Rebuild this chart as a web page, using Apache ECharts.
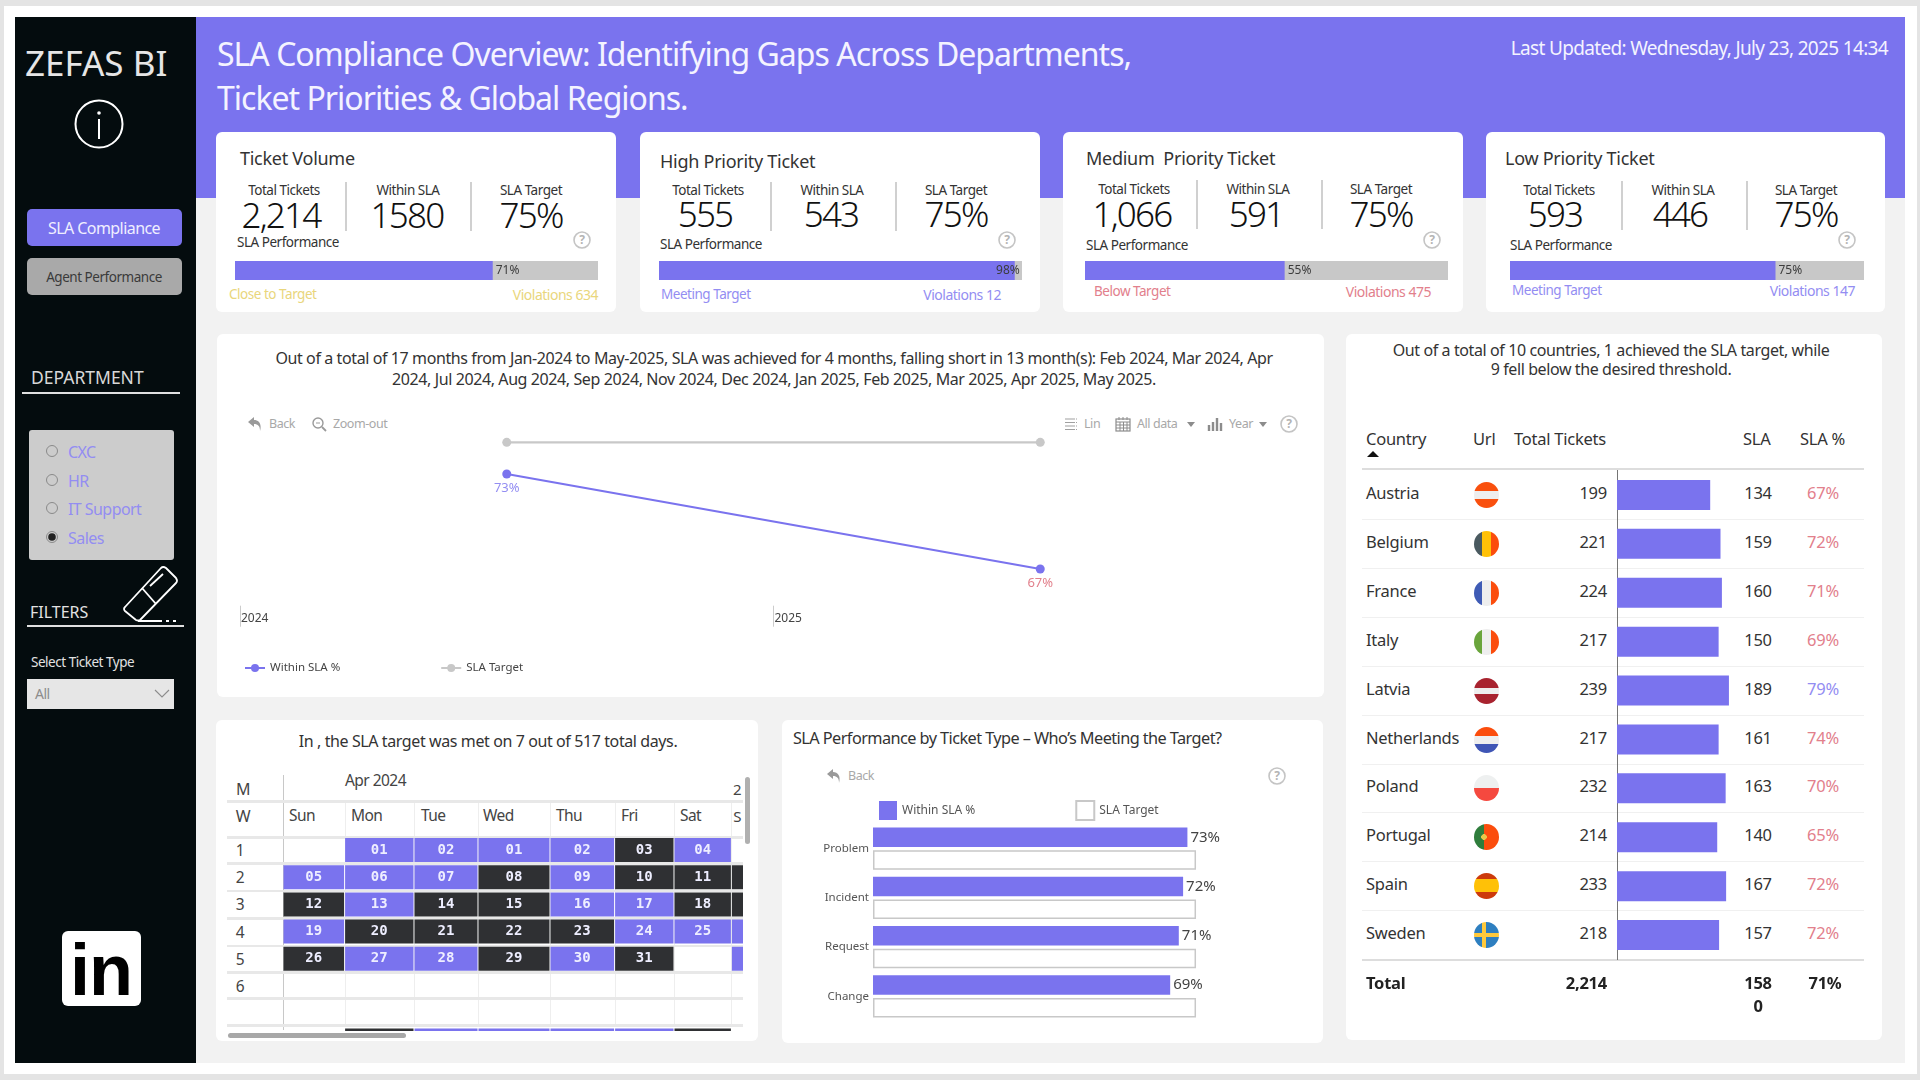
<!DOCTYPE html>
<html>
<head>
<meta charset="utf-8">
<title>SLA Compliance Overview</title>
<script src="https://cdn.jsdelivr.net/npm/echarts@6/dist/echarts.min.js"></script>
<style>
    html, body { margin: 0; padding: 0; width: 1920px; height: 1080px; overflow: hidden; background: #e4e4e4; }
    body { font-family: "Noto Sans", sans-serif; color: #333; }
    #page { position: absolute; left: 0; top: 0; width: 1920px; height: 1080px; }
    .box { position: absolute; }
    .box svg { display: block; }
    .txt { position: absolute; white-space: pre; letter-spacing: -0.035em; line-height: 1; }
    .flag { position: absolute; width: 25px; height: 26px; border-radius: 50%; overflow: hidden; }
</style>
</head>
<body>
<div id="page"></div>
<script>
/* sla dashboard */

// -------------------------------------------------
// data
// -------------------------------------------------
const kpiTitles = ["Ticket Volume", "High Priority Ticket", "Medium  Priority Ticket", "Low Priority Ticket"];
const kpiTotals = ["2,214", "555", "1,066", "593"];
const kpiWithin = ["1580", "543", "591", "446"];
const kpiTargets = ["75%", "75%", "75%", "75%"];
const kpiPercents = [71, 98, 55, 75];
const kpiStatus = ["Close to Target", "Meeting Target", "Below Target", "Meeting Target"];
const kpiViolations = [634, 12, 475, 147];

const trendYears = ["2024", "2025"];
const trendWithin = [73, 67];
const trendTarget = [75, 75];

const weekLabels = ["1", "2", "3", "4", "5", "6"];
const dayLabels = ["Sun", "Mon", "Tue", "Wed", "Thu", "Fri", "Sat"];
const calendarDays = [
    ["", "01", "02", "01", "02", "03", "04", ""],
    ["05", "06", "07", "08", "09", "10", "11", ""],
    ["12", "13", "14", "15", "16", "17", "18", ""],
    ["19", "20", "21", "22", "23", "24", "25", ""],
    ["26", "27", "28", "29", "30", "31", "", ""],
    ["", "", "", "", "", "", "", ""],
    ["", "", "", "", "", "", "", ""],
    ["", "", "", "", "", "", "", ""]
];
// 1 = target met, 0 = missed, null = no cell
const calendarMet = [
    [null, 1, 1, 1, 1, 0, 1, null],
    [1, 1, 1, 0, 1, 0, 0, 0],
    [0, 1, 0, 0, 1, 1, 0, 0],
    [1, 0, 0, 0, 0, 1, 1, 1],
    [0, 1, 1, 0, 1, 0, null, 1],
    [null, null, null, null, null, null, null, null],
    [null, null, null, null, null, null, null, null],
    [null, 0, 1, 1, 1, 1, 0, null]
];

const ticketTypes = ["Problem", "Incident", "Request", "Change"];
const typeWithin = [73, 72, 71, 69];
const typeTarget = [75, 75, 75, 75];

const countries = ["Austria", "Belgium", "France", "Italy", "Latvia", "Netherlands", "Poland", "Portugal", "Spain", "Sweden"];
const countryTickets = [199, 221, 224, 217, 239, 217, 232, 214, 233, 218];
const countrySla = [134, 159, 160, 150, 189, 161, 163, 140, 167, 157];
const countryPct = [67, 72, 71, 69, 79, 74, 70, 65, 72, 72];

// -------------------------------------------------
// colours + flags
// -------------------------------------------------
const PURPLE = "#7a73ee";
const SOFT_PURPLE = "#938df2";
const RED = "#e2808c";
const YELLOW = "#e9d67c";
const DARK = "#2f3033";
const statusColors = { "Close to Target": YELLOW, "Meeting Target": SOFT_PURPLE, "Below Target": RED };
const PARA = "letter-spacing:-0.025em;";
const TABLE = "letter-spacing:-0.015em;";

const flagStyles = [
    "linear-gradient(#f9500e 33%, #eeeeee 33%, #eeeeee 66%, #f9500e 66%)",
    "linear-gradient(90deg, #4a5a60 33%, #ffc107 33%, #ffc107 66%, #fb4d0d 66%)",
    "linear-gradient(90deg, #3f5bb5 33%, #eeeeee 33%, #eeeeee 66%, #fb4d0d 66%)",
    "linear-gradient(90deg, #6aa53c 33%, #eeeeee 33%, #eeeeee 66%, #fb4d0d 66%)",
    "linear-gradient(#a8232f 38%, #eeeeee 38%, #eeeeee 62%, #a8232f 62%)",
    "linear-gradient(#fb4d0d 33%, #eeeeee 33%, #eeeeee 66%, #3f55b5 66%)",
    "linear-gradient(#eef0f0 50%, #f5493f 50%)",
    "radial-gradient(circle at 40% 50%, #e8c84a 0, #e8c84a 14%, transparent 15%), linear-gradient(90deg, #2f7d3c 40%, #fb4d0d 40%)",
    "linear-gradient(#cc3a0c 25%, #ffc107 25%, #ffc107 75%, #cc3a0c 75%)",
    "linear-gradient(90deg, transparent 30%, #ffc93c 30%, #ffc93c 46%, transparent 46%), linear-gradient(transparent 42%, #ffc93c 42%, #ffc93c 58%, transparent 58%), linear-gradient(#2e7fc0, #2e7fc0)"
];

// -------------------------------------------------
// dom helpers
// -------------------------------------------------
const page = document.getElementById("page");

function box(x, y, w, h, bg, radius) {
    const el = document.createElement("div");
    el.className = "box";
    el.style.cssText = `left:${x}px;top:${y}px;width:${w}px;height:${h}px;background:${bg};border-radius:${radius || 0}px;`;
    page.appendChild(el);
    return el;
}

// y is the vertical middle of the text, anchor = l | c | r
function text(x, y, str, size, color, anchor, extra) {
    const el = document.createElement("div");
    el.className = "txt";
    el.textContent = str;
    const tx = anchor === "c" ? "-50%" : anchor === "r" ? "-100%" : "0";
    el.style.cssText = `left:${x}px;top:${y}px;font-size:${size}px;color:${color || "#333"};transform:translate(${tx},-50%);${extra || ""}`;
    page.appendChild(el);
    return el;
}

function icon(x, y, w, h, inner) {
    const el = document.createElement("div");
    el.className = "box";
    el.style.cssText = `left:${x}px;top:${y}px;width:${w}px;height:${h}px;`;
    el.innerHTML = `<svg width="${w}" height="${h}" viewBox="0 0 ${w} ${h}" xmlns="http://www.w3.org/2000/svg">${inner}</svg>`;
    page.appendChild(el);
}

function helpIcon(cx, cy) {
    icon(cx - 10, cy - 10, 20, 20, `<circle cx="10" cy="10" r="8" fill="none" stroke="#c4c4c4" stroke-width="1.6"/>`);
    text(cx, cy, "?", 12, "#b4b4b4", "c", "font-weight:700;");
}

function backIcon(x, y) {
    icon(x, y, 16, 16, `<path d="M7 1 L1 6 L7 11 L7 8 C11 8 13 10 13 15 C15 8 12 4 7 4 Z" fill="#9a9a9a"/>`);
}

function makeChart(x, y, w, h) {
    const el = box(x, y, w, h, "transparent");
    return echarts.init(el);
}

// -------------------------------------------------
// page frame
// -------------------------------------------------
box(4, 6, 1913, 1068, "#ffffff");
box(196, 198, 1709, 865, "#f2f2f2");
box(15, 17, 181, 1046, "#040c0e");
box(196, 17, 1709, 181, PURPLE);

text(217, 54, "SLA Compliance Overview: Identifying Gaps Across Departments,", 32, "#f4f3ff", "l", "letter-spacing:-0.031em;");
text(217, 98, "Ticket Priorities & Global Regions.", 32, "#f4f3ff", "l", "letter-spacing:-0.031em;");
text(1888, 48, "Last Updated: Wednesday, July 23, 2025 14:34", 19, "#f4f3ff", "r");

// -------------------------------------------------
// sidebar
// -------------------------------------------------
text(25, 62, "ZEFAS BI", 35, "#e6e6e6", "l", "letter-spacing:0;");
icon(73, 98, 52, 52, `<circle cx="26" cy="26" r="23.5" fill="none" stroke="#ffffff" stroke-width="2"/><circle cx="26" cy="15" r="1.8" fill="#ffffff"/><rect x="25" y="21" width="2" height="20" fill="#ffffff"/>`);

box(27, 209, 155, 37, PURPLE, 5);
text(104, 228, "SLA Compliance", 16, "#f0efff", "c");
box(27, 258, 155, 37, "#a9a9a9", 5);
text(104, 278, "Agent Performance", 13.5, "#3a3a3a", "c");

text(31, 378, "DEPARTMENT", 17.5, "#d8d8d8", "l", "letter-spacing:0;");
box(22, 392, 158, 2, "#e0e0e0");
box(29, 430, 145, 130, "#cccccc", 3);
const departments = ["CXC", "HR", "IT Support", "Sales"];
departments.forEach(function (name, i) {
    const ry = [451, 480, 508, 537][i];
    icon(45, ry - 7, 14, 14, `<circle cx="7" cy="7" r="5.5" fill="none" stroke="#8a8a8a" stroke-width="1"/>` +
        (name === "Sales" ? `<circle cx="7" cy="7" r="3.8" fill="#222222"/>` : ""));
    text(68, ry + 1, name, 16, SOFT_PURPLE);
});

text(30, 612, "FILTERS", 16, "#e2e2e2", "l", "letter-spacing:0;");
box(27, 625, 157, 2, "#e0e0e0");
icon(122, 564, 60, 60, `<g fill="none" stroke="#ffffff" stroke-width="1.8" stroke-linejoin="round">
    <path d="M3 43 L39 4 Q41 2 44 4 L54 14 Q56 17 54 19 L18 56 Q16 57 14 56 L3 47 Q1 45 3 43 Z"/>
    <path d="M20 24 L34 40"/><path d="M28 22 L41 10"/></g>
    <path d="M16 57 L40 57 M44 57 L47 57 M51 57 L54 57" stroke="#ffffff" stroke-width="1.8"/>`);

text(31, 663, "Select Ticket Type", 13.5, "#e2e2e2");
box(27, 679, 147, 30, "#e6e6e6");
text(35, 694, "All", 14, "#8c8c8c");
icon(154, 689, 16, 10, `<path d="M1 1 L8 8 L15 1" fill="none" stroke="#8c8c8c" stroke-width="1.1"/>`);

box(62, 931, 79, 75, "#ffffff", 6);
text(101, 970, "in", 72, "#000000", "c", "font-family:'Liberation Sans';font-weight:700;letter-spacing:-1px;");

// -------------------------------------------------
// kpi cards
// -------------------------------------------------
const kpiLayout = [
    { card: 216, w: 400, title: [240, 158], head: 191, val: 214, cols: [[284, 281], [408, 407], [531, 531]], seps: [345, 470], sepTop: 182, perf: [237, 243], help: 582, bar: [235, 363], status: [229, 295], viol: [598, 295] },
    { card: 640, w: 400, title: [660, 161], head: 191, val: 213, cols: [[708, 705], [832, 831], [956, 956]], seps: [770, 895], sepTop: 182, perf: [660, 245], help: 1007, bar: [659, 363], status: [661, 295], viol: [1001, 295] },
    { card: 1063, w: 400, title: [1086, 158], head: 190, val: 213, cols: [[1134, 1132], [1258, 1256], [1381, 1381]], seps: [1196, 1321], sepTop: 180, perf: [1086, 246], help: 1432, bar: [1085, 363], status: [1094, 292], viol: [1431, 292] },
    { card: 1486, w: 399, title: [1505, 158], head: 190.5, val: 213, cols: [[1559, 1555], [1683, 1680], [1806, 1806]], seps: [1621, 1746], sepTop: 181, perf: [1510, 246], help: 1847, bar: [1510, 354], status: [1512, 291], viol: [1855, 291] }
];

kpiLayout.forEach(function (k, i) {
    box(k.card, 132, k.w, 180, "#ffffff", 6);
    text(k.title[0], k.title[1], kpiTitles[i], 18, "#333", "l", TABLE);

    const heads = ["Total Tickets", "Within SLA", "SLA Target"];
    const values = [kpiTotals[i], kpiWithin[i], kpiTargets[i]];
    heads.forEach(function (h, c) {
        text(k.cols[c][0], k.head, h, 13.5, "#333", "c");
        text(k.cols[c][1], k.val, values[c], 35, "#111", "c", "font-weight:300;letter-spacing:-0.05em;");
    });
    k.seps.forEach(function (sx) {
        box(sx, k.sepTop, 1.5, 49, "#d0d0d0");
    });

    text(k.perf[0], k.perf[1], "SLA Performance", 13.5, "#333");
    helpIcon(k.help, 240);

    const barChart = makeChart(k.bar[0], 261, k.bar[1], 19);
    barChart.setOption({
        animation: false,
        grid: { left: 0, right: 0, top: 0, bottom: 0 },
        xAxis: { type: "value", min: 0, max: 100, show: false },
        yAxis: { type: "category", data: [kpiTitles[i]], show: false },
        series: [{
            type: "bar",
            data: [kpiPercents[i]],
            barWidth: 19,
            itemStyle: { color: PURPLE },
            showBackground: true,
            backgroundStyle: { color: "#c8c8c8" },
            label: {
                show: true,
                position: kpiPercents[i] > 90 ? "insideRight" : "right",
                distance: kpiPercents[i] > 90 ? -5 : 3,
                formatter: "{c}%",
                fontSize: 12,
                fontFamily: "Noto Sans",
                color: "#3c3c3c"
            }
        }]
    });

    const statusColor = statusColors[kpiStatus[i]];
    text(k.status[0], k.status[1], kpiStatus[i], 13.5, statusColor);
    text(k.viol[0], k.viol[1], "Violations " + kpiViolations[i], 14, statusColor, "r");
});

// -------------------------------------------------
// yearly trend line
// -------------------------------------------------
box(217, 334, 1107, 363, "#ffffff", 6);
text(774, 358, "Out of a total of 17 months from Jan-2024 to May-2025, SLA was achieved for 4 months, falling short in 13 month(s): Feb 2024, Mar 2024, Apr", 16, "#333", "c", PARA);
text(774, 379, "2024, Jul 2024, Aug 2024, Sep 2024, Nov 2024, Dec 2024, Jan 2025, Feb 2025, Mar 2025, Apr 2025, May 2025.", 16, "#333", "c", PARA);

backIcon(247, 416);
text(269, 424, "Back", 12.5, "#a8a8a8");
icon(311, 416, 16, 16, `<circle cx="7" cy="7" r="5" fill="none" stroke="#9a9a9a" stroke-width="1.4"/><path d="M11 11 L15 15" stroke="#9a9a9a" stroke-width="1.8"/><path d="M5 7 H9" stroke="#9a9a9a"/>`);
text(333, 424, "Zoom-out", 12.5, "#a8a8a8");
icon(1064, 417, 14, 14, `<path d="M1 2 H13 M1 5.5 H13 M1 9 H13 M1 12.5 H13" stroke="#a0a0a0" stroke-width="1.2" stroke-dasharray="10 1"/>`);
text(1084, 424, "Lin", 12.5, "#a8a8a8");
icon(1115, 416, 16, 16, `<rect x="1" y="3" width="14" height="12" fill="none" stroke="#8c8c8c" stroke-width="1.2"/><path d="M1 6 H15 M4 1 V4 M8 1 V4 M12 1 V4 M5 6 V15 M8.5 6 V15 M12 6 V15 M1 9 H15 M1 12 H15" stroke="#8c8c8c"/>`);
text(1137, 424, "All data", 12.5, "#a8a8a8");
icon(1187, 422, 8, 5, `<path d="M0 0 H8 L4 5 Z" fill="#8c8c8c"/>`);
icon(1207, 416, 16, 16, `<path d="M2 15 V9 M6 15 V6 M10 15 V2 M14 15 V7" stroke="#8c8c8c" stroke-width="2.4"/>`);
text(1229, 424, "Year", 12.5, "#a8a8a8");
icon(1259, 422, 8, 5, `<path d="M0 0 H8 L4 5 Z" fill="#8c8c8c"/>`);
helpIcon(1289, 424);

const trendChart = makeChart(217, 334, 1107, 363);
trendChart.setOption({
    animation: false,
    legend: {
        left: 27,
        top: 328,
        padding: 0,
        itemWidth: 20,
        itemHeight: 10,
        itemGap: 100,
        textStyle: { fontFamily: "Noto Sans", fontSize: 11.5, color: "#444" },
        data: ["Within SLA %", "SLA Target"]
    },
    grid: { left: 23, width: 1067, top: 76.7, height: 190 },
    xAxis: [
        { type: "category", data: trendYears, show: false },
        {
            type: "category",
            data: trendYears.concat([""]),
            boundaryGap: false,
            position: "bottom",
            offset: 5,
            axisLine: { show: false },
            axisTick: { show: true, length: 21, interval: function (i) { return i < 2; }, lineStyle: { color: "#cccccc" } },
            axisLabel: { interval: 0, align: "left", margin: 7, padding: [0, 0, 0, 1], fontFamily: "Noto Sans", fontSize: 12, color: "#444" }
        }
    ],
    yAxis: { type: "value", min: 65, max: 77, show: false },
    series: [
        {
            name: "Within SLA %",
            type: "line",
            data: trendWithin.map(function (v) {
                return { value: v, label: { color: v < 70 ? RED : SOFT_PURPLE } };
            }),
            symbol: "circle",
            symbolSize: 9,
            itemStyle: { color: PURPLE },
            lineStyle: { width: 2.2, color: PURPLE },
            label: { show: true, position: "bottom", distance: 3, formatter: "{c}%", fontFamily: "Noto Sans", fontSize: 13 }
        },
        {
            name: "SLA Target",
            type: "line",
            data: trendTarget,
            symbol: "circle",
            symbolSize: 9,
            itemStyle: { color: "#c8c8c8" },
            lineStyle: { width: 2.2, color: "#c8c8c8" }
        }
    ]
});

// -------------------------------------------------
// calendar
// -------------------------------------------------
box(216, 720, 542, 321, "#ffffff", 6);
text(488, 741, "In , the SLA target was met on 7 out of 517 total days.", 16, "#333", "c", PARA);

text(243, 789, "M", 16, "#444", "c");
text(345, 781, "Apr 2024", 15.5, "#444");
text(737, 789, "2", 15, "#444", "c");
text(243, 816, "W", 16, "#444", "c");
const dayLabelX = [289, 351, 421, 483, 556, 621, 680];
dayLabels.forEach(function (d, i) {
    text(dayLabelX[i], 816, d, 15.5, "#444");
});
text(737, 816, "S", 15, "#444", "c");
box(743, 775, 4, 60, "#ffffff");
weekLabels.forEach(function (w, i) {
    text(240, 851 + i * 27.2, w, 15.5, "#444", "c");
});

// column widths differ in the source matrix
const calColWidths = [61.6, 69.4, 64, 72, 64.6, 59.4, 57.4, 60];
const calColEdges = calColWidths.reduce(function (acc, w) {
    acc.push(acc[acc.length - 1] + w);
    return acc;
}, [0]);

[283, 344.6, 414, 478, 550, 614.6, 674, 731.4].forEach(function (vx, i) {
    box(vx, i === 0 ? 775 : 801, 1, i === 0 ? 255 : 225, i === 0 ? "#c8c8c8" : "#eeeeee");
});
[801, 837, 863, 890.5, 918, 945.5, 972, 998, 1025].forEach(function (ly) {
    box(227, ly - 1, 516, 2.5, "#e8e8e8");
});

const calendarCells = [];
calendarMet.forEach(function (row, r) {
    row.forEach(function (met, c) {
        if (met !== null) {
            calendarCells.push([c, r, calendarDays[r][c], met]);
        }
    });
});

const calendarChart = makeChart(283, 837, 460, 194);
calendarChart.setOption({
    animation: false,
    grid: { left: 0, right: 0, top: 0, bottom: 0 },
    xAxis: { type: "value", min: 0, max: 460, show: false },
    yAxis: { type: "value", min: 0, max: 194 / 27.2, inverse: true, show: false },
    series: [{
        type: "custom",
        clip: true,
        encode: { x: 0, y: 1 },
        data: calendarCells,
        renderItem: function (params, api) {
            const col = api.value(0);
            const row = api.value(1);
            const tl = api.coord([calColEdges[col], row]);
            const br = api.coord([calColEdges[col + 1], row + 1]);
            const rect = { x: tl[0] + 0.5, y: tl[1] + 1, width: br[0] - tl[0] - 1, height: 24 };
            return {
                type: "group",
                children: [
                    { type: "rect", shape: rect, style: { fill: api.value(3) ? PURPLE : DARK } },
                    {
                        type: "text",
                        style: {
                            text: calendarCells[params.dataIndex][2],
                            x: rect.x + rect.width / 2,
                            y: rect.y + 12,
                            align: "center",
                            verticalAlign: "middle",
                            fill: "#eeeeff",
                            font: "700 14px 'DejaVu Sans Mono'"
                        }
                    }
                ]
            };
        }
    }]
});

box(745, 777, 5, 67, "#b0b0b0", 3);
box(228, 1033, 178, 5, "#a8a8a8", 3);

// -------------------------------------------------
// ticket type bars
// -------------------------------------------------
box(782, 720, 541, 323, "#ffffff", 6);
text(793, 738, "SLA Performance by Ticket Type – Who’s Meeting the Target?", 16.3, "#333");
backIcon(826, 768);
text(848, 776, "Back", 12.5, "#a8a8a8");
helpIcon(1277, 776);

const typeChart = makeChart(782, 720, 541, 323);
typeChart.setOption({
    animation: false,
    legend: {
        left: 97,
        top: 80,
        padding: 0,
        icon: "rect",
        itemWidth: 18,
        itemHeight: 19,
        itemGap: 100,
        textStyle: { fontFamily: "Noto Sans", fontSize: 12, color: "#555" },
        data: ["Within SLA %", "SLA Target"]
    },
    grid: { left: 91, width: 430.7, top: 104, height: 197 },
    xAxis: { type: "value", min: 0, max: 100, show: false },
    yAxis: {
        type: "category",
        inverse: true,
        data: ticketTypes,
        axisLine: { show: false },
        axisTick: { show: false },
        axisLabel: { margin: 4, fontFamily: "Noto Sans", fontSize: 11.5, color: "#555" }
    },
    series: [
        {
            name: "Within SLA %",
            type: "bar",
            data: typeWithin,
            barWidth: 19.5,
            barGap: "16%",
            itemStyle: { color: PURPLE },
            label: { show: true, position: "right", distance: 3, formatter: "{c}%", fontFamily: "Noto Sans", fontSize: 15, color: "#444" }
        },
        {
            name: "SLA Target",
            type: "bar",
            data: typeTarget,
            barWidth: 19.5,
            itemStyle: { color: "#ffffff", borderColor: "#c8c8c8", borderWidth: 1.5 }
        }
    ]
});

// -------------------------------------------------
// country table
// -------------------------------------------------
box(1346, 334, 536, 706, "#ffffff", 6);
text(1611, 350, "Out of a total of 10 countries, 1 achieved the SLA target, while", 16, "#333", "c", PARA);
text(1611, 369, "9 fell below the desired threshold.", 16, "#333", "c", PARA);

text(1366, 439, "Country", 16.5, "#333", "l", TABLE);
text(1473, 439, "Url", 16.5, "#333", "l", TABLE);
text(1514, 439, "Total Tickets", 16.5, "#333", "l", TABLE);
text(1743, 439, "SLA", 16.5, "#333", "l", TABLE);
text(1800, 439, "SLA %", 16.5, "#333", "l", TABLE);
icon(1367, 451, 12, 6, `<path d="M0 6 L6 0 L12 6 Z" fill="#111"/>`);
box(1362, 468, 502, 2, "#dddddd");

countries.forEach(function (name, i) {
    const rowY = 495 + i * 48.9;
    const rowText = rowY - 2;
    text(1366, rowText, name, 16.5, "#333", "l", TABLE);
    const flag = document.createElement("div");
    flag.className = "flag";
    flag.style.cssText = `left:1474px;top:${rowY - 13}px;background:${flagStyles[i]};`;
    page.appendChild(flag);
    text(1607, rowText, String(countryTickets[i]), 16.5, "#333", "r", TABLE);
    text(1758, rowText, String(countrySla[i]), 16.5, "#333", "c", TABLE);
    text(1823, rowText, countryPct[i] + "%", 16.5, countryPct[i] >= 75 ? SOFT_PURPLE : RED, "c", TABLE);
    if (i < 9) {
        box(1362, rowY + 24, 502, 1, "#f0f0f0");
    }
});
box(1362, 959, 502, 2, "#dddddd");

const countryChart = makeChart(1346, 334, 536, 706);
countryChart.setOption({
    animation: false,
    grid: { left: 271, width: 140.5, top: 136.5, height: 489 },
    xAxis: { type: "value", min: 0, max: 300, show: false },
    yAxis: {
        type: "category",
        inverse: true,
        data: countries,
        axisLine: { show: true, lineStyle: { color: "#666666", type: "dotted", width: 1 } },
        axisTick: { show: false },
        axisLabel: { show: false }
    },
    series: [{
        type: "bar",
        data: countryTickets,
        barWidth: 30,
        itemStyle: { color: PURPLE }
    }]
});

text(1366, 983, "Total", 16.5, "#222", "l", "font-weight:700;" + TABLE);
text(1607, 983, "2,214", 16.5, "#222", "r", "font-weight:700;" + TABLE);
text(1758, 983, "158", 16.5, "#222", "c", "font-weight:700;" + TABLE);
text(1758, 1006, "0", 16.5, "#222", "c", "font-weight:700;" + TABLE);
text(1825, 983, "71%", 16.5, "#222", "c", "font-weight:700;" + TABLE);
</script>
</body>
</html>
